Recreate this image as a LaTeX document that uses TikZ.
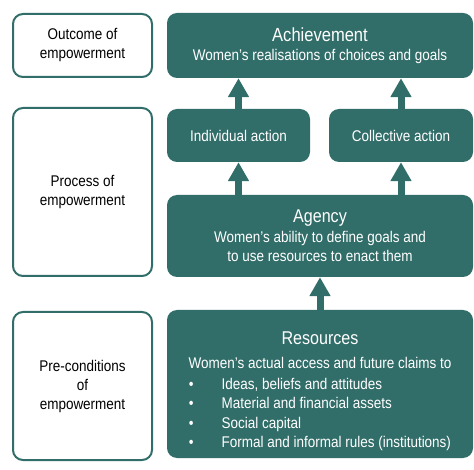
\documentclass[tikz,border=0pt]{standalone}
\usepackage{fontspec}
\setmainfont{Liberation Sans}[FakeStretch=0.87]
\usetikzlibrary{arrows.meta}
\definecolor{empteal}{RGB}{50,110,105}

\begin{document}
\begin{tikzpicture}[x=1pt, y=-1pt,
  stage/.style={draw=empteal, line width=2pt, rounded corners=10pt, fill=white,
    align=center, inner sep=0pt, font=\fontsize{15.5}{19}\selectfont},
  tealbox/.style={fill=empteal, rounded corners=10pt, text=white,
    align=center, inner sep=0pt, font=\fontsize{15.5}{19.5}\selectfont},
  uparrow/.style={draw=empteal, line width=7pt, -{Triangle[length=19pt,width=20pt]}}]
\useasboundingbox (0,0) rectangle (474,470);
% left column
\node[stage, minimum width=139pt, minimum height=63pt] (outcome) at (82.5,45.5) {Outcome of\\empowerment};
\node[stage, minimum width=139pt, minimum height=168pt] (process) at (82.5,192) {Process of\\empowerment};
\node[stage, minimum width=139pt, minimum height=148pt] (precond) at (82.5,386) {Pre-conditions\\of\\empowerment};
% right column
\node[tealbox, minimum width=306pt, minimum height=65pt] (achieve) at (320,45.5)
  {{\fontsize{19}{22}\selectfont Achievement}\\Women’s realisations of choices and goals};
\node[tealbox, minimum width=143pt, minimum height=53pt] (indiv) at (238.5,135.5) {Individual action};
\node[tealbox, minimum width=144pt, minimum height=53pt] (collect) at (401,135.5) {Collective action};
\node[tealbox, minimum width=306pt, minimum height=82pt] (agency) at (320,236)
  {{\fontsize{18.5}{21}\selectfont Agency}\\Women’s ability to define goals and\\to use resources to enact them};
\node[tealbox, minimum width=306pt, minimum height=148pt] (resources) at (320,384)
  {{\fontsize{18.5}{21}\selectfont\rule{0pt}{30pt}Resources}\\[5pt]Women’s actual access and future claims to\\[1pt]
   \begin{tabular}[t]{@{}l@{\hspace{28pt}}l@{}}
   \textbullet & Ideas, beliefs and attitudes\\
   \textbullet & Material and financial assets\\
   \textbullet & Social capital\\
   \textbullet & Formal and informal rules (institutions)
   \end{tabular}};
% arrows
\draw[uparrow] (indiv.north) -- (indiv.north |- achieve.south);
\draw[uparrow] (collect.north) -- (collect.north |- achieve.south);
\draw[uparrow] (indiv.north |- agency.north) -- (indiv.south);
\draw[uparrow] (collect.north |- agency.north) -- (collect.south);
\draw[uparrow] (resources.north) -- (agency.south);
\end{tikzpicture}
\end{document}
